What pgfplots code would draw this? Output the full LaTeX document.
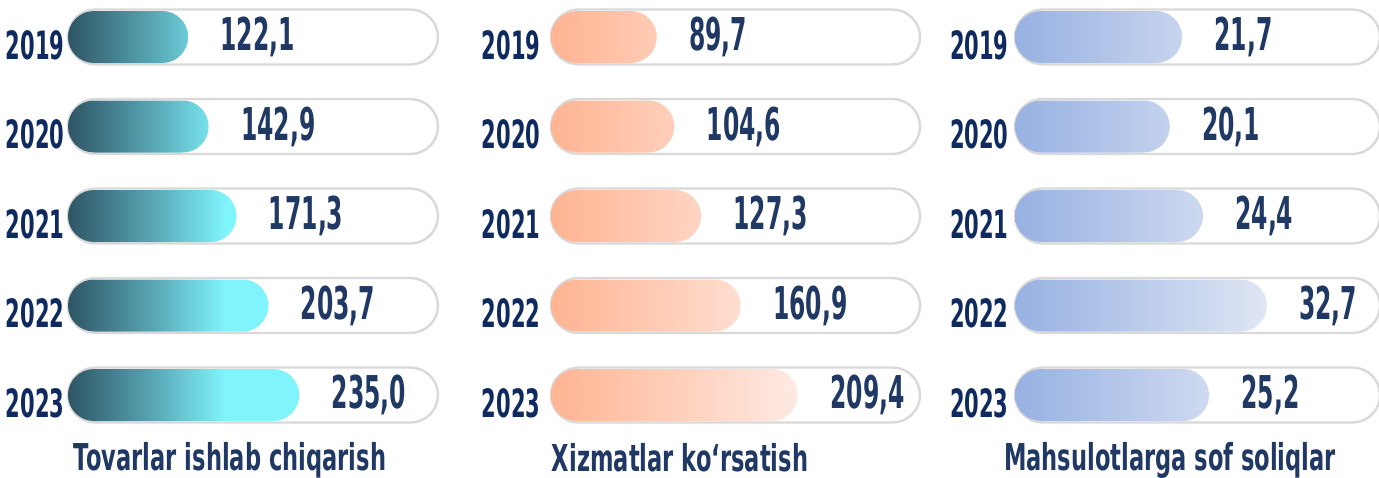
\documentclass[border=0pt]{standalone}
\usepackage{fontspec}
\setmainfont{DejaVu Sans}
\newfontfamily\yearfont{DejaVu Sans}[FakeStretch=0.54]
\newfontfamily\valfont{DejaVu Sans}[FakeStretch=0.52]
\newfontfamily\titlefont{DejaVu Sans}[FakeStretch=0.61]
\usepackage{pgfplots}
\usepackage{pgfplotstable}
\pgfplotsset{compat=1.18}

\definecolor{yearcol}{HTML}{0E2A5E}
\definecolor{valcol}{HTML}{1F3864}
\definecolor{trackgray}{HTML}{D9D9D9}
\definecolor{tealA}{HTML}{2E5565}
\definecolor{tealB}{HTML}{5AA9B7}
\definecolor{tealC}{HTML}{80F4FB}
\definecolor{salA}{HTML}{FFB492}
\definecolor{salB}{HTML}{FFEAE3}
\definecolor{bluA}{HTML}{97B1E2}
\definecolor{bluB}{HTML}{DFE6F4}

% edges of the bar sit at 25bp and 75bp
\pgfdeclarehorizontalshading{tealbar}{100bp}{color(0bp)=(tealA); color(25bp)=(tealA); color(44bp)=(tealB); color(59bp)=(tealC); color(100bp)=(tealC)}
\pgfdeclarehorizontalshading{salbar}{100bp}{color(0bp)=(salA); color(25bp)=(salA); color(75bp)=(salB); color(100bp)=(salB)}
\pgfdeclarehorizontalshading{blubar}{100bp}{color(0bp)=(bluA); color(25bp)=(bluA); color(75bp)=(bluB); color(100bp)=(bluB)}

\pgfplotstableread{
y v
0 122.1
1 142.9
2 171.3
3 203.7
4 235.0
}\tovar
\pgfplotstableread{
y v
0 89.7
1 104.6
2 127.3
3 160.9
4 209.4
}\xizmat
\pgfplotstableread{
y v
0 21.7
1 20.1
2 24.4
3 32.7
4 25.2
}\soliq

\pgfplotsset{
  pillaxis/.style={
    scale only axis, height=223.75pt, anchor=north west,
    xmin=0, ymin=-0.5, ymax=4.5, y dir=reverse, clip=false,
    axis line style={draw=none}, tick style={draw=none}, major tick length=0pt,
    xtick=\empty, ytick={0,1,2,3,4},
    yticklabels={2019,2020,2021,2022,2023},
    yticklabel style={font={\yearfont\fontsize{19.5pt}{21pt}\bfseries\selectfont},
      text=yearcol, inner sep=0pt, yshift=-4pt},
    xbar, bar shift=0pt,
    /pgf/number format/fixed, /pgf/number format/fixed zerofill,
    /pgf/number format/precision=1, /pgf/number format/use comma,
    /pgf/number format/assume math mode=true,
  },
  track/.style={xbar, bar width=27.5pt, fill=white, draw=trackgray,
    line width=1.2pt, rounded corners=13.75pt},
  valbar/.style={xbar, bar width=26pt, draw=none, shade, shading=#1,
    rounded corners=13pt, point meta=x, nodes near coords,
    nodes near coords align={horizontal},
    every node near coord/.append style={
      font={\valfont\fontsize{22.6pt}{24pt}\bfseries\selectfont},
      text=valcol, anchor=west, xshift=16pt, inner sep=0pt}},
}

\begin{document}
\begin{tikzpicture}
% Tovarlar ishlab chiqarish
\begin{axis}[pillaxis, at={(34pt,3.875pt)}, width=185pt, xmax=376,
  yticklabel style={xshift=-1.5pt}]
  \addplot[track] coordinates {(376,0) (376,1) (376,2) (376,3) (376,4)};
  \addplot[valbar=tealbar] table[x=v, y=y] {\tovar};
\end{axis}
% Xizmatlar ko'rsatish
\begin{axis}[pillaxis, at={(275.5pt,3.875pt)}, width=184.5pt, xmax=313,
  yticklabel style={xshift=-5pt}]
  \addplot[track] coordinates {(313,0) (313,1) (313,2) (313,3) (313,4)};
  \addplot[valbar=salbar] table[x=v, y=y] {\xizmat};
\end{axis}
% Mahsulotlarga sof soliqlar
\begin{axis}[pillaxis, at={(507.5pt,3.875pt)}, width=182.5pt, xmax=47.4,
  yticklabel style={xshift=-3pt}]
  \addplot[track] coordinates {(47.4,0) (47.4,1) (47.4,2) (47.4,3) (47.4,4)};
  \addplot[valbar=blubar] table[x=v, y=y] {\soliq};
\end{axis}

\begin{scope}[every node/.style={font={\titlefont\fontsize{18.5pt}{20pt}\bfseries\selectfont},
    text=valcol, anchor=base, inner sep=0pt}]
  \node at (115pt,-235pt) {Tovarlar ishlab chiqarish};
  \node at (340pt,-235.5pt) {Xizmatlar koʻrsatish};
  \node at (585pt,-235pt) {Mahsulotlarga sof soliqlar};
\end{scope}

\pgfresetboundingbox
\useasboundingbox (0,0) rectangle (689.5pt,-238.5pt);
\end{tikzpicture}
\end{document}
